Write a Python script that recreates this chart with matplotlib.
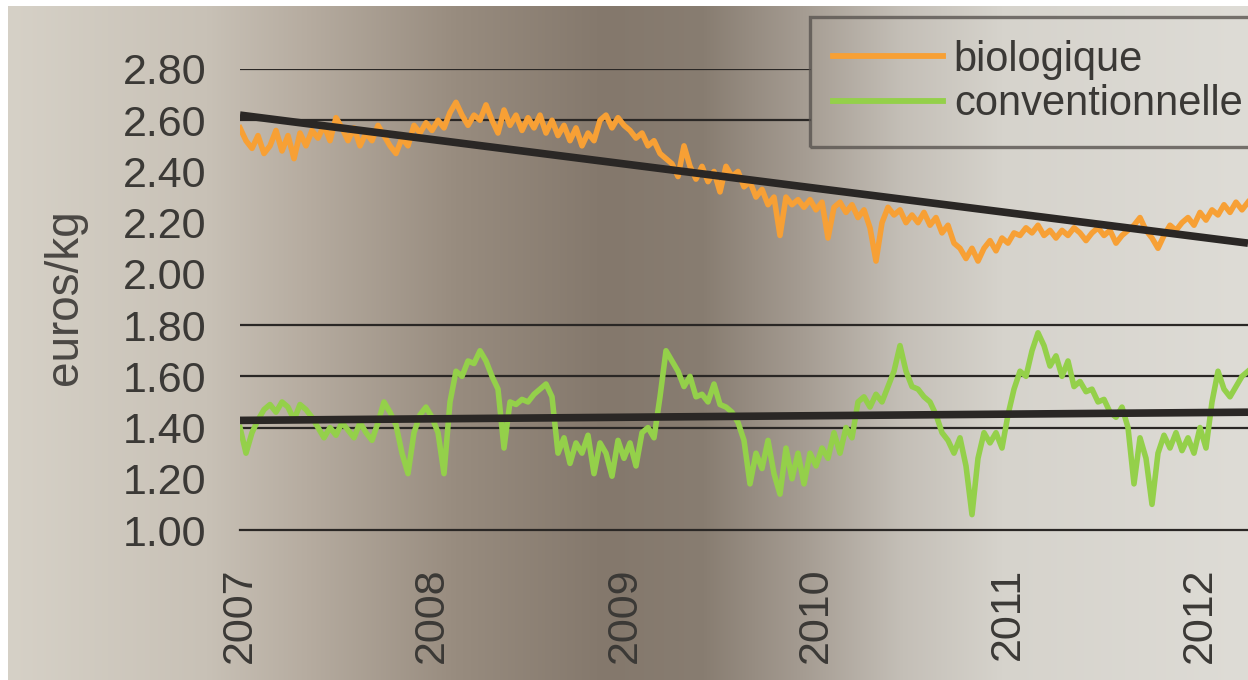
import numpy as np
import pandas as pd
import matplotlib
matplotlib.use("Agg")
import matplotlib.pyplot as plt
from matplotlib.lines import Line2D

# ---------------- data ----------------
start_date = "2007-01-01"
end_date = "2012-04-01"

bio_values = [
    2.57, 2.52, 2.49, 2.54, 2.47, 2.50, 2.56, 2.48, 2.54, 2.45, 2.55, 2.50, 2.56, 2.53, 2.58, 2.52,
    2.61, 2.57, 2.52, 2.57, 2.50, 2.55, 2.52, 2.58, 2.54, 2.50, 2.47, 2.53, 2.50, 2.58, 2.55, 2.59,
    2.56, 2.60, 2.57, 2.63, 2.67, 2.62, 2.58, 2.62, 2.60, 2.66, 2.60, 2.55, 2.64, 2.58, 2.62, 2.56,
    2.61, 2.57, 2.62, 2.55, 2.60, 2.54, 2.58, 2.52, 2.57, 2.50, 2.55, 2.52, 2.60, 2.62, 2.57, 2.61,
    2.58, 2.56, 2.53, 2.55, 2.50, 2.52, 2.47, 2.45, 2.43, 2.38, 2.50, 2.42, 2.37, 2.42, 2.36, 2.40,
    2.32, 2.42, 2.38, 2.40, 2.34, 2.36, 2.30, 2.33, 2.27, 2.30, 2.15, 2.30, 2.27, 2.29, 2.26, 2.29,
    2.25, 2.28, 2.14, 2.26, 2.28, 2.24, 2.27, 2.22, 2.25, 2.18, 2.05, 2.20, 2.26, 2.23, 2.25, 2.20,
    2.23, 2.20, 2.24, 2.19, 2.22, 2.16, 2.19, 2.12, 2.10, 2.06, 2.10, 2.05, 2.10, 2.13, 2.09, 2.14,
    2.12, 2.16, 2.15, 2.18, 2.16, 2.19, 2.15, 2.17, 2.14, 2.17, 2.15, 2.18, 2.16, 2.13, 2.16, 2.18,
    2.15, 2.17, 2.12, 2.15, 2.17, 2.19, 2.22, 2.17, 2.14, 2.10, 2.15, 2.19, 2.17, 2.20, 2.22, 2.19,
    2.24, 2.21, 2.25, 2.23, 2.27, 2.24, 2.28, 2.25, 2.28,
]

conv_values = [
    1.40, 1.30, 1.38, 1.43, 1.47, 1.49, 1.46, 1.50, 1.48, 1.43, 1.49, 1.47, 1.44, 1.40, 1.36, 1.40,
    1.37, 1.42, 1.39, 1.36, 1.42, 1.38, 1.35, 1.42, 1.50, 1.46, 1.41, 1.30, 1.22, 1.38, 1.45, 1.48,
    1.44, 1.38, 1.22, 1.50, 1.62, 1.60, 1.66, 1.65, 1.70, 1.66, 1.60, 1.55, 1.32, 1.50, 1.49, 1.51,
    1.50, 1.53, 1.55, 1.57, 1.52, 1.30, 1.36, 1.26, 1.34, 1.30, 1.37, 1.22, 1.34, 1.30, 1.21, 1.35,
    1.28, 1.34, 1.25, 1.38, 1.40, 1.36, 1.52, 1.70, 1.66, 1.62, 1.56, 1.60, 1.52, 1.53, 1.50, 1.57,
    1.49, 1.48, 1.46, 1.42, 1.35, 1.18, 1.30, 1.24, 1.35, 1.22, 1.14, 1.32, 1.20, 1.30, 1.18, 1.30,
    1.25, 1.32, 1.28, 1.38, 1.30, 1.40, 1.36, 1.50, 1.52, 1.48, 1.53, 1.50, 1.56, 1.62, 1.72, 1.62,
    1.56, 1.55, 1.52, 1.50, 1.45, 1.38, 1.35, 1.30, 1.36, 1.25, 1.06, 1.28, 1.38, 1.34, 1.38, 1.32,
    1.45, 1.55, 1.62, 1.60, 1.70, 1.77, 1.72, 1.64, 1.68, 1.60, 1.66, 1.56, 1.58, 1.54, 1.55, 1.50,
    1.51, 1.46, 1.44, 1.48, 1.40, 1.18, 1.36, 1.28, 1.10, 1.30, 1.37, 1.32, 1.38, 1.31, 1.36, 1.30,
    1.40, 1.32, 1.50, 1.62, 1.55, 1.52, 1.56, 1.60, 1.62,
]

trend_dates = ["2007-01-01", "2012-04-01"]
bio_trend = [2.62, 2.12]
conv_trend = [1.428, 1.46]

year_ticks = ["2007", "2008", "2009", "2010", "2011", "2012"]
y_ticks = [1.00, 1.20, 1.40, 1.60, 1.80, 2.00, 2.20, 2.40, 2.60, 2.80]
grid_levels = [2.80, 2.60, 1.80, 1.60, 1.40]
labels = ["biologique", "conventionnelle"]
y_label = "euros/kg"

dates = pd.date_range(start_date, end_date, periods=len(bio_values))
tdates = pd.to_datetime(trend_dates)

# ---------------- style ----------------
plt.rcParams["font.family"] = ["Liberation Sans", "DejaVu Sans"]
W, H = 1248, 680
fig = plt.figure(figsize=(W / 100, H / 100), dpi=100)
fig.patch.set_facecolor("white")

# background gradient
bg = fig.add_axes([8 / W, 0, 1 - 8 / W, 1 - 6 / H], zorder=-10)
stops_x = [0, 200, 300, 450, 600, 700, 800, 900, 1000, 1248]
stops_c = np.array([
    (214, 209, 199), (200, 193, 182), (182, 172, 160), (152, 140, 127),
    (132, 120, 108), (136, 125, 113), (165, 156, 146), (196, 191, 183),
    (214, 211, 204), (222, 220, 214)]) / 255.0
xs = np.arange(W)
grad = np.stack([np.interp(xs, stops_x, stops_c[:, i]) for i in range(3)], axis=-1)
bg.imshow(grad[np.newaxis, :, :], aspect="auto", extent=[0, 1, 0, 1])
bg.set_axis_off()

ax = fig.add_axes([240 / W, 1 - 530 / H, 1 - 240 / W, 461 / H])
ax.set_facecolor("none")

orange = "#f7a035"
green = "#94d04a"
dark = "#2a2725"
text_col = "#3b3936"

ax.plot(dates, bio_values, color=orange, lw=4.0, zorder=3, solid_joinstyle="round")
ax.plot(dates, conv_values, color=green, lw=4.0, zorder=3, solid_joinstyle="round")
ax.plot(tdates, bio_trend, color=dark, lw=5.5, zorder=4, solid_capstyle="butt")
ax.plot(tdates, conv_trend, color=dark, lw=5.5, zorder=4, solid_capstyle="butt")

ax.set_xlim(pd.Timestamp(start_date), pd.Timestamp(end_date))
ax.set_ylim(1.0, 2.8)

ax.set_yticks(y_ticks)
ax.set_yticklabels([f"{v:.2f}" for v in y_ticks])
xt = pd.to_datetime([f"{y}-01-01" for y in year_ticks])
ax.set_xticks(xt)
ax.set_xticklabels(year_ticks, rotation=90)
ax.tick_params(axis="both", length=0, labelsize=31, colors=text_col)
ax.tick_params(axis="y", pad=24)
ax.tick_params(axis="x", pad=27)

for s in ["left", "right", "top"]:
    ax.spines[s].set_visible(False)
ax.spines["bottom"].set_color(dark)
ax.spines["bottom"].set_linewidth(1.6)

ax.set_ylabel(y_label, fontsize=33, color="#4a4744")
ax.yaxis.set_label_coords(-0.152, 0.505)

# legend
handles = [Line2D([], [], color=orange, lw=4.2), Line2D([], [], color=green, lw=4.2)]
leg = fig.legend(handles, labels, loc="upper left", bbox_to_anchor=(810 / W, 1 - 17 / H),
                 borderaxespad=0, fontsize=30, handlelength=2.65, handletextpad=0.25,
                 borderpad=0.55, labelspacing=0.1, fancybox=False, frameon=True)
leg.get_frame().set_facecolor("none")
leg.get_frame().set_edgecolor("#595450")
leg.get_frame().set_linewidth(2.4)
for t in leg.get_texts():
    t.set_color(text_col)

# gridlines, stopped at the legend where they pass under it
fig.canvas.draw()
lb = leg.get_window_extent().transformed(ax.transAxes.inverted())
for lvl in grid_levels:
    yfrac = (lvl - 1.0) / (2.8 - 1.0)
    xmax = lb.x0 if lb.y0 <= yfrac <= lb.y1 else 1.0
    ax.axhline(lvl, xmin=0, xmax=xmax, color=dark, lw=1.6, zorder=1)

fig.savefig("out.png", dpi=100)
